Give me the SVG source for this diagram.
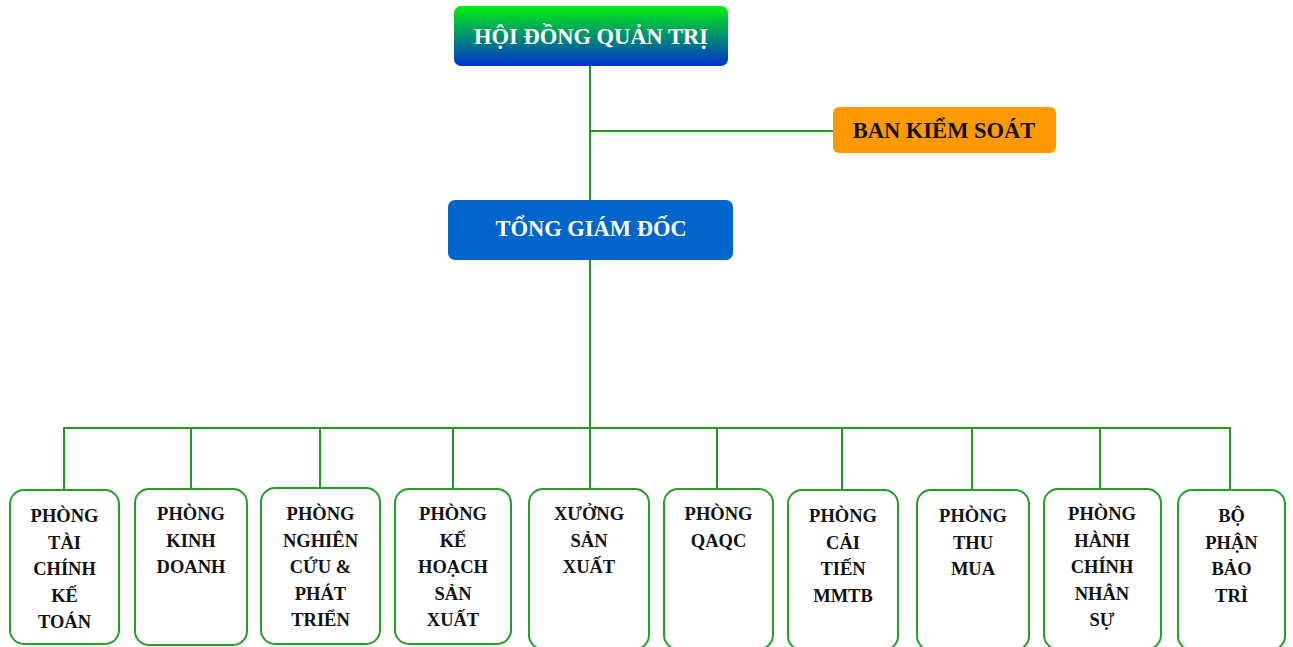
<svg xmlns="http://www.w3.org/2000/svg" width="1293" height="647" viewBox="0 0 1293 647">
<defs>
<linearGradient id="g1" x1="0" y1="0" x2="0" y2="1">
<stop offset="0" stop-color="#00f010"/>
<stop offset="0.5" stop-color="#009070"/>
<stop offset="1" stop-color="#0030d0"/>
</linearGradient>
<style>
.ln{stroke:#1f9a1f;stroke-width:2;fill:none}
.bx{fill:#fff;stroke:#22a022;stroke-width:2}
.t{font-family:"Liberation Serif","Times New Roman",serif;font-weight:bold;text-anchor:middle}
.s{font-size:18.5px;fill:#111}
.h{font-size:22.5px}
</style>
</defs>
<rect width="1293" height="647" fill="#fff"/>
<g id="connectors">
<line class="ln" x1="590" y1="66" x2="590" y2="200"/>
<line class="ln" x1="590" y1="131" x2="833" y2="131"/>
<line class="ln" x1="590" y1="260" x2="590" y2="428"/>
<line class="ln" x1="63" y1="428" x2="1231" y2="428"/>
<line class="ln" x1="64" y1="428" x2="64" y2="490"/>
<line class="ln" x1="191" y1="428" x2="191" y2="489"/>
<line class="ln" x1="320" y1="428" x2="320" y2="488"/>
<line class="ln" x1="453" y1="428" x2="453" y2="489"/>
<line class="ln" x1="590" y1="428" x2="590" y2="489"/>
<line class="ln" x1="717" y1="428" x2="717" y2="489"/>
<line class="ln" x1="842" y1="428" x2="842" y2="490"/>
<line class="ln" x1="972" y1="428" x2="972" y2="490"/>
<line class="ln" x1="1100" y1="428" x2="1100" y2="489"/>
<line class="ln" x1="1230" y1="428" x2="1230" y2="490"/>
</g>
<g id="hdqt">
<rect x="454" y="6" width="274" height="60" rx="7" fill="url(#g1)"/>
<text class="t h" x="591" y="44" fill="#fff">HỘI ĐỒNG QUẢN TRỊ</text>
</g>
<g id="bks">
<rect x="833" y="107" width="223" height="46" rx="6" fill="#ff9900"/>
<text class="t h" x="944" y="138" fill="#111">BAN KIỂM SOÁT</text>
</g>
<g id="tgd">
<rect x="448" y="200" width="285" height="60" rx="7" fill="#0066cc"/>
<text class="t h" x="591" y="236" fill="#fff">TỔNG GIÁM ĐỐC</text>
</g>
<g id="n1">
<rect class="bx" x="10" y="490" width="109" height="154" rx="14"/>
<text class="t s" x="64.5" y="522">PHÒNG<tspan x="64.5" dy="26.5">TÀI</tspan><tspan x="64.5" dy="26.5">CHÍNH</tspan><tspan x="64.5" dy="26.5">KẾ</tspan><tspan x="64.5" dy="26.5">TOÁN</tspan></text>
</g>
<g id="n2">
<rect class="bx" x="135" y="489" width="112" height="156" rx="14"/>
<text class="t s" x="191" y="520">PHÒNG<tspan x="191" dy="26.5">KINH</tspan><tspan x="191" dy="26.5">DOANH</tspan></text>
</g>
<g id="n3">
<rect class="bx" x="261" y="488" width="119" height="156" rx="14"/>
<text class="t s" x="320.5" y="520">PHÒNG<tspan x="320.5" dy="26.5">NGHIÊN</tspan><tspan x="320.5" dy="26.5">CỨU &amp;</tspan><tspan x="320.5" dy="26.5">PHÁT</tspan><tspan x="320.5" dy="26.5">TRIỂN</tspan></text>
</g>
<g id="n4">
<rect class="bx" x="395" y="489" width="116" height="155" rx="14"/>
<text class="t s" x="453" y="520">PHÒNG<tspan x="453" dy="26.5">KẾ</tspan><tspan x="453" dy="26.5">HOẠCH</tspan><tspan x="453" dy="26.5">SẢN</tspan><tspan x="453" dy="26.5">XUẤT</tspan></text>
</g>
<g id="n5">
<rect class="bx" x="529" y="489" width="120" height="160" rx="14"/>
<text class="t s" x="589" y="520">XƯỞNG<tspan x="589" dy="26.5">SẢN</tspan><tspan x="589" dy="26.5">XUẤT</tspan></text>
</g>
<g id="n6">
<rect class="bx" x="664" y="489" width="109" height="160" rx="14"/>
<text class="t s" x="718.5" y="520">PHÒNG<tspan x="718.5" dy="26.5">QAQC</tspan></text>
</g>
<g id="n7">
<rect class="bx" x="788" y="490" width="110" height="160" rx="14"/>
<text class="t s" x="843" y="522">PHÒNG<tspan x="843" dy="26.5">CẢI</tspan><tspan x="843" dy="26.5">TIẾN</tspan><tspan x="843" dy="26.5">MMTB</tspan></text>
</g>
<g id="n8">
<rect class="bx" x="917" y="490" width="112" height="160" rx="14"/>
<text class="t s" x="973" y="522">PHÒNG<tspan x="973" dy="26.5">THU</tspan><tspan x="973" dy="26.5">MUA</tspan></text>
</g>
<g id="n9">
<rect class="bx" x="1044" y="489" width="117" height="160" rx="14"/>
<text class="t s" x="1102" y="520">PHÒNG<tspan x="1102" dy="26.5">HÀNH</tspan><tspan x="1102" dy="26.5">CHÍNH</tspan><tspan x="1102" dy="26.5">NHÂN</tspan><tspan x="1102" dy="26.5">SỰ</tspan></text>
</g>
<g id="n10">
<rect class="bx" x="1178" y="490" width="107" height="160" rx="14"/>
<text class="t s" x="1231.5" y="522">BỘ<tspan x="1231.5" dy="26.5">PHẬN</tspan><tspan x="1231.5" dy="26.5">BẢO</tspan><tspan x="1231.5" dy="26.5">TRÌ</tspan></text>
</g>
</svg>
